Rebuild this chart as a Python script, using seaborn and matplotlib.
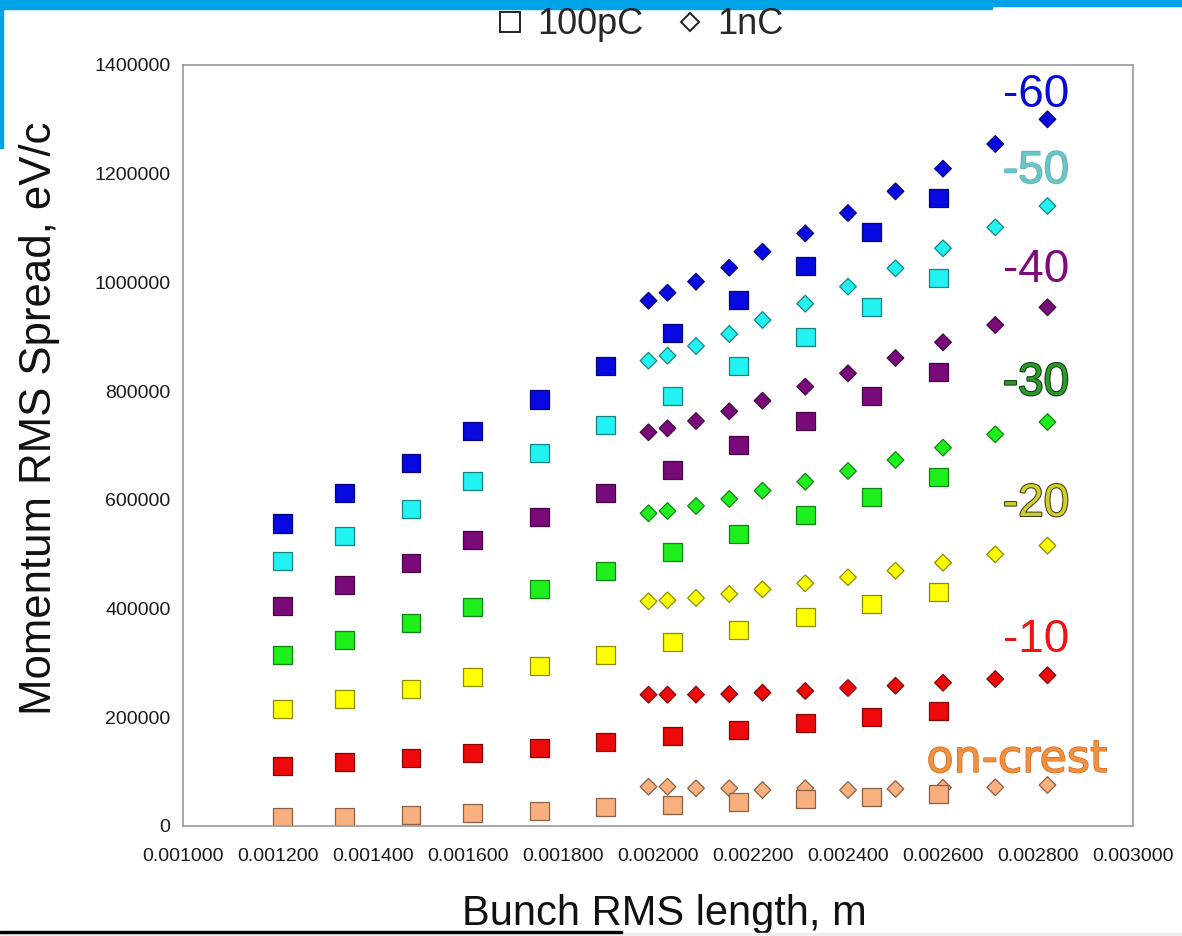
import pandas as pd
import numpy as np
import matplotlib.pyplot as plt
import matplotlib.patheffects as pe
from matplotlib.lines import Line2D
from matplotlib.patches import Rectangle
from matplotlib.ticker import FormatStrFormatter
import seaborn as sns

# --- Data ---
phases = ["on-crest", "-10", "-20", "-30", "-40", "-50", "-60"]

length_100pc = [0.00121, 0.00134, 0.00148, 0.00161, 0.00175, 0.00189,
                0.00203, 0.00217, 0.00231, 0.00245, 0.00259]
length_1nc = [0.00198, 0.00202, 0.00208, 0.00215, 0.00222, 0.00231,
              0.00240, 0.00250, 0.00260, 0.00271, 0.00282]

spread_100pc_crest = [16600, 16600, 20200, 23900, 27600, 35000, 38600, 44200, 49700, 53400, 58900]
spread_100pc_m10 = [110400, 117700, 125100, 134300, 143500, 154500, 165600, 176600, 189500, 200500, 211600]
spread_100pc_m20 = [215200, 233600, 252000, 274100, 294400, 314600, 338500, 360600, 384500, 408400, 430500]
spread_100pc_m30 = [314600, 342200, 373500, 402900, 436000, 469100, 504000, 537200, 572200, 605300, 642000]
spread_100pc_m40 = [404700, 443400, 483800, 526200, 568500, 612600, 655000, 700900, 745000, 791100, 835200]
spread_100pc_m50 = [487500, 533500, 583200, 634700, 686200, 737700, 791000, 846300, 899600, 954800, 1008100]
spread_100pc_m60 = [557000, 612600, 667800, 726700, 785000, 846300, 907000, 967700, 1030200, 1092800, 1155300]

spread_1nc_crest = [72300, 72300, 69400, 69400, 66200, 69400, 66200, 68100, 70500, 71200, 75400]
spread_1nc_m10 = [241600, 241600, 241600, 242800, 245200, 248400, 253900, 258100, 263600, 270400, 277200]
spread_1nc_m20 = [413400, 415200, 419500, 426800, 435400, 446500, 457500, 469700, 484400, 499800, 515700]
spread_1nc_m30 = [575300, 579500, 588700, 601600, 616900, 633400, 653100, 673300, 696000, 720600, 743200]
spread_1nc_m40 = [724300, 731600, 745100, 762900, 782400, 808200, 832800, 861000, 889900, 921700, 954200]
spread_1nc_m50 = [856000, 865200, 883100, 905100, 930900, 960900, 992200, 1026000, 1062800, 1101400, 1140600]
spread_1nc_m60 = [966400, 981100, 1001400, 1027100, 1056500, 1090300, 1127700, 1167600, 1209300, 1254700, 1300100]

x_ticks = [0.001, 0.0012, 0.0014, 0.0016, 0.0018, 0.002, 0.0022, 0.0024, 0.0026, 0.0028, 0.003]
y_ticks = [0, 200000, 400000, 600000, 800000, 1000000, 1200000, 1400000]

# --- Build long table ---
spreads_100pc = [spread_100pc_crest, spread_100pc_m10, spread_100pc_m20, spread_100pc_m30,
                 spread_100pc_m40, spread_100pc_m50, spread_100pc_m60]
spreads_1nc = [spread_1nc_crest, spread_1nc_m10, spread_1nc_m20, spread_1nc_m30,
               spread_1nc_m40, spread_1nc_m50, spread_1nc_m60]

rows = []
for ph, vals in zip(phases, spreads_1nc):
    for x, y in zip(length_1nc, vals):
        rows.append({"phase": ph, "charge": "1nC", "length": x, "spread": y})
for ph, vals in zip(phases, spreads_100pc):
    for x, y in zip(length_100pc, vals):
        rows.append({"phase": ph, "charge": "100pC", "length": x, "spread": y})
df = pd.DataFrame(rows)

palette = {
    "on-crest": "#f9b07e",
    "-10": "#ee0a0a",
    "-20": "#ffff00",
    "-30": "#1ef01e",
    "-40": "#7a0a7a",
    "-50": "#22f2f2",
    "-60": "#0808e0",
}

sns.set_theme(style="white")
plt.rcParams["font.family"] = ["Liberation Sans", "DejaVu Sans"]

fig = plt.figure(figsize=(11.82, 9.36), dpi=100)
ax = fig.add_axes([183 / 1182, 1 - 826 / 936, 950 / 1182, 761 / 936])

sns.scatterplot(
    data=df, x="length", y="spread",
    hue="phase", style="charge", size="charge",
    markers={"100pC": "s", "1nC": "D"},
    sizes={"100pC": 185, "1nC": 72},
    palette=palette, legend=False, linewidth=0.9, ax=ax,
)

# darker outline of the same colour
for coll in ax.collections:
    fc = np.array(coll.get_facecolors())
    ec = fc.copy()
    ec[:, :3] = ec[:, :3] * 0.55
    coll.set_edgecolors(ec)

ax.set_xlim(0.001, 0.003)
ax.set_ylim(0, 1400000)
ax.set_xticks(x_ticks)
ax.set_yticks(y_ticks)
ax.xaxis.set_major_formatter(FormatStrFormatter("%.6f"))
ax.yaxis.set_major_formatter(FormatStrFormatter("%d"))
ax.tick_params(axis="both", direction="out", length=7, width=1, color="#a0a0a0",
               labelcolor="#1a1a1a", labelsize=14)
ax.tick_params(axis="x", pad=9)
ax.tick_params(axis="y", pad=2)
for sp in ax.spines.values():
    sp.set_color("#9a9a9a")
    sp.set_linewidth(1.2)

ax.set_xlabel("Bunch RMS length, m", fontsize=30, labelpad=21, color="#111111")
ax.xaxis.label.set_x(0.507)
ax.set_ylabel("Momentum RMS Spread, eV/c", fontsize=31.5, labelpad=25, color="#111111")
ax.yaxis.label.set_y(0.536)

# --- phase labels ---
label_x = 0.0027958
ax.text(label_x, 1322700, "-60", fontsize=33, color="#0a0ad8", ha="center", va="baseline")
ax.text(label_x, 1182900, "-50", fontsize=33, color="#6cc4c4", ha="center", va="baseline",
        path_effects=[pe.withStroke(linewidth=1.0, foreground="#58b2b2")])
ax.text(label_x, 1000800, "-40", fontsize=33, color="#7e0a7e", ha="center", va="baseline")
ax.text(label_x, 792900, "-30", fontsize=33, color="#2a9a2a", ha="center", va="baseline",
        path_effects=[pe.withStroke(linewidth=1.4, foreground="#0b2e0b")])
ax.text(label_x, 570300, "-20", fontsize=33, color="#cfcf2a", ha="center", va="baseline",
        path_effects=[pe.withStroke(linewidth=1.4, foreground="#34340a")])
ax.text(label_x, 320100, "-10", fontsize=33, color="#ee1414", ha="center", va="baseline")
ax.text(0.002756, 99300, "on-crest", fontsize=32, color="#f29040", ha="center", va="baseline",
        family=["DejaVu Sans"],
        path_effects=[pe.withStroke(linewidth=1.0, foreground="#d26a1a")])

# --- legend at the top ---
handles = [
    Line2D([], [], marker="s", linestyle="none", markersize=14, markerfacecolor="white",
           markeredgecolor="#222222", markeredgewidth=1.4, label="100pC"),
    Line2D([], [], marker="D", linestyle="none", markersize=9, markerfacecolor="white",
           markeredgecolor="#222222", markeredgewidth=1.4, label="1nC"),
]
fig.legend(handles=handles, loc="center", bbox_to_anchor=(638 / 1182, 1 - 25 / 936),
           ncol=2, frameon=False, fontsize=26, handletextpad=0.25, columnspacing=0.8,
           handlelength=1.0)

# --- slide decorations ---
fig.patches.append(Rectangle((0, 1 - 9 / 936), 992 / 1182, 9 / 936, transform=fig.transFigure,
                             color="#00a3e8", zorder=0))
fig.patches.append(Rectangle((992 / 1182, 1 - 6 / 936), 190 / 1182, 6 / 936,
                             transform=fig.transFigure, color="#00a3e8", zorder=0))
fig.patches.append(Rectangle((0, 1 - 148 / 936), 3 / 1182, 148 / 936, transform=fig.transFigure,
                             color="#00a3e8", zorder=0))
fig.patches.append(Rectangle((0, 0), 1, 3 / 936, transform=fig.transFigure,
                             color="#eeeeee", zorder=0))
fig.patches.append(Rectangle((0, 1 - 933 / 936), 622 / 1182, 2 / 936, transform=fig.transFigure,
                             color="#000000", zorder=0))

fig.savefig("out.png", dpi=100)
plt.close(fig)
